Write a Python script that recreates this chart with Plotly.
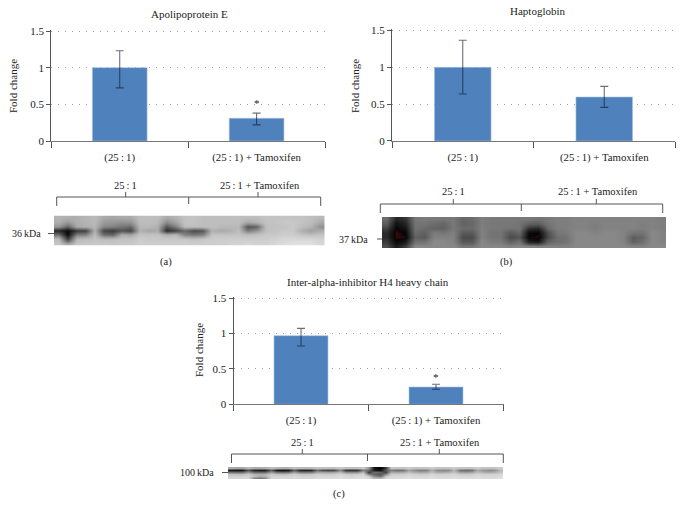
import plotly.graph_objects as go

W, H = 682, 505
FONT = "Liberation Serif"
TXT = "#222222"
T = "\u2009"
categories = [f"(25{T}:{T}1)", f"(25{T}:{T}1) + Tamoxifen"]
lane_a, lane_b = f"25{T}:{T}1", f"25{T}:{T}1 + Tamoxifen"

apoe_values = [1.0, 0.31]
apoe_upper = [0.23, 0.07]
apoe_lower = [0.275, 0.09]
hapto_values = [1.0, 0.597]
hapto_upper = [0.367, 0.145]
hapto_lower = [0.362, 0.14]
itih4_values = [0.971, 0.245]
itih4_upper = [0.104, 0.038]
itih4_lower = [0.146, 0.033]
y_ticks = [0, 0.5, 1, 1.5]
y_labels = ["0", "0.5", "1", "1.5"]
Y_MAX = 1.5
Y_HEADROOM = 1.52

blot_a = [
    [180,175,175,180,185,170,165,170,170,190,190,190,170,180,195,195,190,190,190,190,190,190,190,195,195,195,195,195,190,185],
    [175,155,175,180,185,155,150,145,150,188,190,185,140,165,195,195,190,190,190,190,190,170,180,195,195,200,200,195,190,170],
    [150,100,170,175,182,135,130,115,105,185,185,175, 85,125,190,190,190,190,185,185,185, 85,100,190,195,195,200,190,180,145],
    [ 40, 10, 60, 65,178, 70, 60, 85, 70,178,165,170, 45, 70,105, 75, 85,178,170,175,190,125,150,190,195,200,200,175,160,175],
    [110, 10,125,130,190,110,100,172,165,195,195,195,175,185,130,120,130,195,195,195,195,190,195,200,200,205,205,195,190,195],
    [190, 65,185,190,195,190,190,195,195,205,200,200,200,200,200,195,200,205,205,205,205,205,205,205,210,215,215,215,215,210],
    [198,165,198,198,200,200,198,200,200,205,205,205,205,205,205,205,205,205,205,210,210,215,210,210,215,220,225,225,225,215],
]
blot_b = [
    [110, 40, 55,122,125,122,120,122,105,110,128,122,122,122,122,122,118,122,128,128,132,132,132,132,132,132,132,132,132,128],
    [ 95, 20, 40,118,118,110,105,122,100,105,128,122,122,122,118,100, 95,118,128,128,132,132,128,132,132,132,132,128,132,128],
    [ 70, 10, 25,115,110,100,100,122,110,110,128,122,122,118,118, 55, 45,108,128,128,132,132,128,132,132,132,132,128,132,128],
    [ 45,  3, 12,110, 98,125,120,128, 92, 92,132,118,118, 92,105, 15, 10, 80,120,125,138,138,132,138,138,132,118,118,138,132],
    [ 45,  3,  6, 98, 92,132,132,132, 78, 78,132,118,118, 78, 88,  8,  4, 75,112,118,138,138,138,138,138,132, 95,105,138,132],
    [ 60, 12, 28,115,115,138,138,132, 88, 90,138,125,125,100,115, 35, 25,100,112,118,138,138,138,138,138,132,100,112,138,132],
    [ 80, 30, 65,138,138,138,138,138,120,120,138,138,138,132,138,132,128,132,132,132,138,138,138,138,138,138,132,132,138,138],
]
blot_c = [
    [170,165,165,185,170,170,175,190,180,175,175,190,185,185,185,195,190,190,190,200,190,190,190,200,150, 20,  0, 60,200,195,195,205,195,195,195,205,195,195,195,205,195,195,195,205,195,195,195,205],
    [ 25, 20, 22, 85, 35, 28, 30, 95, 22, 18, 22, 95, 40, 35, 40,110, 75, 70, 72,135, 55, 48, 50,125,105, 30, 15, 90,125,110,115,165,140,125,130,175,140,135,140,180,115,105,110,170,150,140,145,185],
    [115,110,112,150,110,105,110,155,115,110,115,160,125,120,125,165,165,160,165,185,145,140,145,185, 55,110,100, 65,170,165,170,190,175,165,170,195,170,170,175,195,160,155,165,190,175,170,175,195],
    [195,190,190,205,180,175,180,205,195,190,195,210,200,195,200,210,205,205,205,215,205,200,205,215,130,100, 85,135,205,205,205,215,210,205,205,215,210,210,210,215,205,205,205,215,210,210,210,215],
    [205,205,205,210,190,170,180,210,210,210,210,215,210,210,210,215,215,215,215,220,215,210,215,220,205,135,115,195,215,215,215,220,215,215,215,220,215,215,215,220,215,215,215,220,215,215,215,220],
    [215,215,215,220,125,110,130,215,215,220,215,220,215,215,215,220,220,220,220,225,220,220,220,225,220,195,190,220,220,220,220,225,220,220,220,225,220,220,220,225,220,220,220,225,220,220,220,225],
]

GRAY = [[0, "#000000"], [1, "#ffffff"]]
RED_GRAY = [[0, "#7a1414"], [0.012, "#3a0808"], [0.035, "#050505"], [1, "#ffffff"]]


def px(x0, x1):
    return [x0 / W, x1 / W]


def py(y_top, y_bottom):
    return [1 - y_bottom / H, 1 - y_top / H]


fig = go.Figure()
layout = {}
annotations = []
shapes = []


def note(text, x, y, size=10.5, anchor="center", angle=0):
    annotations.append(dict(text=text, x=x / W, y=1 - y / H, xref="paper", yref="paper",
                            showarrow=False, xanchor=anchor, yanchor="middle", textangle=angle,
                            font=dict(family=FONT, size=size, color=TXT)))


def rule(x0, y0, x1, y1, color="#555555", width=1):
    shapes.append(dict(type="line", xref="paper", yref="paper", x0=x0 / W, x1=x1 / W,
                       y0=1 - y0 / H, y1=1 - y1 / H, line=dict(color=color, width=width)))


def bar_panel(n, box, values, upper, lower, star):
    xname, yname = f"x{n}", f"y{n}"
    fig.add_trace(go.Bar(
        x=categories, y=values, width=0.4, xaxis=xname, yaxis=yname,
        marker=dict(color="#4f81bd", line=dict(color="#a9c2e0", width=0.6)), showlegend=False,
        hoverinfo="skip",
        error_y=dict(type="data", symmetric=False, array=upper, arrayminus=lower,
                     color="rgba(15,25,40,0.62)", thickness=1.1, width=4),
    ))
    layout[f"xaxis{n}"] = dict(
        domain=px(box[0], box[1]), anchor=yname, type="category", tickson="boundaries",
        range=[-0.5, 1.5], showgrid=False, ticks="outside", ticklen=6, tickcolor="#555555",
        showline=True, linecolor="#777777", linewidth=1, ticklabelstandoff=6, automargin=False,
        tickfont=dict(family=FONT, size=10.8, color=TXT), fixedrange=True, zeroline=False,
    )
    # A little headroom above 1.5 keeps the top dotted gridline from being clipped.
    top = box[3] - (box[3] - box[2]) * Y_HEADROOM / Y_MAX
    layout[f"yaxis{n}"] = dict(
        domain=py(top, box[3]), anchor=xname, range=[0, Y_HEADROOM], tickvals=y_ticks, ticktext=y_labels,
        ticks="outside", ticklen=4, tickcolor="#555555", showline=True, linecolor="#555555", linewidth=1,
        showgrid=True, gridcolor="#a0a0a0", griddash="1px,6px", gridwidth=1, zeroline=False, automargin=False,
        tickfont=dict(family=FONT, size=11, color=TXT), fixedrange=True,
    )
    if star is not None:
        annotations.append(dict(text="*", x=categories[1], y=star, xref=xname, yref=yname, showarrow=False,
                                font=dict(family=FONT, size=11, color=TXT)))


def blot_panel(n, box, z, scale):
    xname, yname = f"x{n}", f"y{n}"
    fig.add_trace(go.Heatmap(z=z, xaxis=xname, yaxis=yname, colorscale=scale, zmin=0, zmax=255,
                             zsmooth="best", showscale=False, hoverinfo="skip"))
    layout[f"xaxis{n}"] = dict(domain=px(box[0], box[1]), anchor=yname, visible=False, automargin=False,
                               range=[-0.5, len(z[0]) - 0.5], fixedrange=True)
    layout[f"yaxis{n}"] = dict(domain=py(box[2], box[3]), anchor=xname, visible=False, automargin=False,
                               range=[len(z) - 0.5, -0.5], fixedrange=True)


def bracket(x0, xm, x1, y, tick_a, tick_b):
    rule(x0, y, x1, y)
    rule(x0, y, x0, y + 9)
    rule(x1, y, x1, y + 9)
    rule(xm, y, xm, y + 7)
    rule(tick_a, y, tick_a, y - 5)
    rule(tick_b, y, tick_b, y - 5)


bar_panel(1, (51.3, 325, 31, 141), apoe_values, apoe_upper, apoe_lower, 0.52)
bar_panel(2, (392, 675, 30.5, 141), hapto_values, hapto_upper, hapto_lower, None)
bar_panel(3, (233.5, 503.5, 298.3, 404.3), itih4_values, itih4_upper, itih4_lower, 0.38)
blot_panel(4, (54, 324.5, 215.5, 245.5), blot_a, GRAY)
blot_panel(5, (382, 666, 217, 248), blot_b, RED_GRAY)
blot_panel(6, (228, 503, 467, 479.5), blot_c, GRAY)

note("Apolipoprotein E", 190, 14, 11)
note("Haptoglobin", 537, 11, 11)
note("Inter-alpha-inhibitor H4 heavy chain", 368, 282, 11)
note("Fold change", 13, 86, 11, angle=-90)
note("Fold change", 355, 86, 11, angle=-90)
note("Fold change", 199, 350, 11, angle=-90)

bracket(56.7, 188.7, 320.7, 197, 125.7, 258)
bracket(380.3, 521.3, 662.7, 204, 453.3, 596.3)
bracket(231.5, 367.5, 503.3, 454, 302.3, 439.3)
note(lane_a, 125.5, 185)
note(lane_b, 260, 185)
note(lane_a, 453, 191)
note(lane_b, 597.5, 191)
note(lane_a, 302, 442)
note(lane_b, 440, 442)

note(f"36{T}kDa", 43, 233.5, 10, "right")
note(f"37{T}kDa", 370, 239.5, 10, "right")
note(f"100{T}kDa", 215.5, 472.5, 10, "right")
rule(48, 233.5, 54, 233.5)
rule(377, 239, 382, 239)
rule(222, 472.5, 228, 472.5)

note("(a)", 165.5, 262)
note("(b)", 506, 262)
note("(c)", 339, 494)

fig.update_layout(width=W, height=H, autosize=False, margin=dict(l=0, r=0, t=0, b=0),
                  paper_bgcolor="white", plot_bgcolor="white", showlegend=False,
                  annotations=annotations, shapes=shapes, **layout)
fig.write_html("out.html", config={"displayModeBar": False},
               post_script="document.body.style.margin='0';document.body.style.overflow='hidden';")
